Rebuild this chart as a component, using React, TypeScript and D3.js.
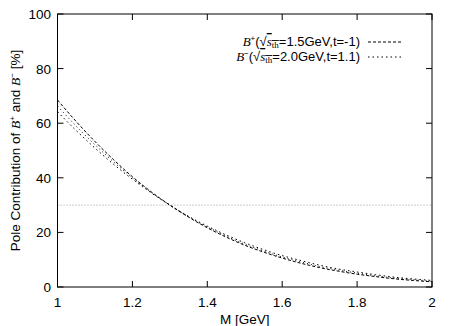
import React from "react";
import * as d3 from "d3";

const masses = [1.0, 1.05, 1.1, 1.15, 1.2, 1.25, 1.3, 1.35, 1.4, 1.45, 1.5, 1.55, 1.6, 1.65, 1.7, 1.75, 1.8, 1.85, 1.9, 1.95, 2.0];
const bPlus = [68.5, 60.6, 53.3, 46.6, 40.4, 34.9, 30.0, 25.6, 21.7, 18.3, 15.3, 12.8, 10.6, 8.7, 7.1, 5.8, 4.7, 3.8, 3.0, 2.4, 1.9];
const bMinusA = [66.3, 58.9, 52.1, 45.8, 40.0, 34.7, 30.0, 25.7, 22.0, 18.7, 15.7, 13.2, 11.0, 9.2, 7.5, 6.2, 5.1, 4.1, 3.3, 2.7, 2.1];
const bMinus = [64.2, 57.3, 50.9, 44.9, 39.5, 34.5, 30.0, 25.9, 22.3, 19.1, 16.2, 13.7, 11.5, 9.7, 8.0, 6.6, 5.5, 4.5, 3.6, 2.95, 2.4];
const xTicks = [1, 1.2, 1.4, 1.6, 1.8, 2];
const yTicks = [0, 20, 40, 60, 80, 100];
const refLevel = 30;

const W = 460, H = 326;
const L = 57.5, R = 432, T = 14, B = 287;
const font = "'Liberation Sans', Arial, sans-serif";
const mathFont = "'Liberation Serif', 'Times New Roman', serif";

export default function App() {
  const x = d3.scaleLinear().domain([1, 2]).range([L, R]);
  const y = d3.scaleLinear().domain([0, 100]).range([B, T]);
  const line = d3.line<[number, number]>().x(d => x(d[0])).y(d => y(d[1])).curve(d3.curveMonotoneX);
  const pts = (arr: number[]) => masses.map((m, i) => [m, arr[i]] as [number, number]);
  const tick = 6;

  const legendTextX = 360;
  const sampleX1 = 368, sampleX2 = 403;

  const legendLabel = (val: string, sign: string) => (
    <>
      <tspan fontFamily={mathFont} fontStyle="italic">B</tspan>
      <tspan fontSize={8} dy={-5}>{sign}</tspan>
      <tspan dy={5}>(√</tspan>
      <tspan fontFamily={mathFont} fontStyle="italic" textDecoration="overline">s</tspan>
      <tspan fontFamily={mathFont} fontSize={9} dy={2} textDecoration="overline">th</tspan>
      <tspan dy={-2}>{`=${val}`}</tspan>
    </>
  );

  return (
    <svg width={W} height={H} style={{ position: "absolute", left: 0, top: 0, background: "#fff" }} fontFamily={font}>
      <rect x={0} y={0} width={W} height={H} fill="#fff" />
      <line x1={L} x2={R} y1={y(refLevel)} y2={y(refLevel)} stroke="#999" strokeWidth={1} strokeDasharray="1,2" />
      {xTicks.map(t => (
        <g key={"x" + t}>
          <line x1={x(t)} x2={x(t)} y1={B} y2={B - tick} stroke="#000" />
          <line x1={x(t)} x2={x(t)} y1={T} y2={T + tick} stroke="#000" />
          <text x={x(t)} y={307} fontSize={13.5} textAnchor="middle">{String(t)}</text>
        </g>
      ))}
      {yTicks.map(t => (
        <g key={"y" + t}>
          <line x1={L} x2={L + tick} y1={y(t)} y2={y(t)} stroke="#000" />
          <line x1={R} x2={R - tick} y1={y(t)} y2={y(t)} stroke="#000" />
          <text x={51} y={y(t) + 5} fontSize={13.5} textAnchor="end">{String(t)}</text>
        </g>
      ))}
      <path d={line(pts(bPlus)) || ""} fill="none" stroke="#000" strokeWidth={1} strokeDasharray="3,2" />
      <path d={line(pts(bMinusA)) || ""} fill="none" stroke="#000" strokeWidth={1} strokeDasharray="1,3" />
      <path d={line(pts(bMinus)) || ""} fill="none" stroke="#000" strokeWidth={1} strokeDasharray="1.5,3" />
      <rect x={L} y={T} width={R - L} height={B - T} fill="none" stroke="#000" strokeWidth={1} />
      <text x={legendTextX} y={46} fontSize={13} textAnchor="end">{legendLabel("1.5GeV,t=-1)", "+")}</text>
      <line x1={sampleX1} x2={sampleX2} y1={42} y2={42} stroke="#000" strokeDasharray="3,2" />
      <text x={legendTextX} y={61} fontSize={13} textAnchor="end">{legendLabel("2.0GeV,t=1.1)", "−")}</text>
      <line x1={sampleX1} x2={sampleX2} y1={57} y2={57} stroke="#000" strokeDasharray="1.5,3" />
      <text x={(L + R) / 2} y={324} fontSize={13.5} textAnchor="middle">M [GeV]</text>
      <text transform={`translate(20,${(T + B) / 2}) rotate(-90)`} fontSize={13.5} textAnchor="middle">
        Pole Contribution of <tspan fontFamily={mathFont} fontStyle="italic">B</tspan>
        <tspan fontSize={8} dy={-5}>+</tspan>
        <tspan dy={5}> and </tspan>
        <tspan fontFamily={mathFont} fontStyle="italic">B</tspan>
        <tspan fontSize={8} dy={-5}>−</tspan>
        <tspan dy={5}> [%]</tspan>
      </text>
    </svg>
  );
}
